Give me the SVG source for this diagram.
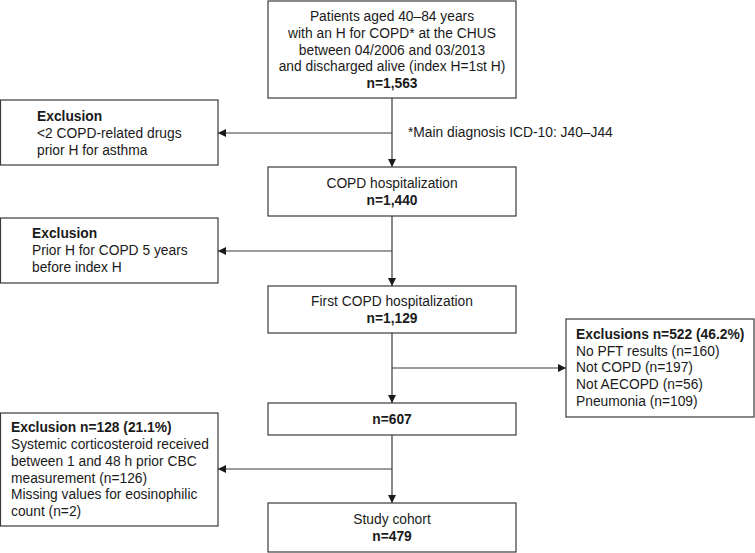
<svg xmlns="http://www.w3.org/2000/svg" width="755" height="553" viewBox="0 0 755 553">
<defs>
<style>
.box{fill:#fff;stroke:#3a3a3a;stroke-width:1.2}
.t{font-family:"Liberation Sans",Arial,sans-serif;font-size:13.8px;fill:#1a1a1a}
.c{text-anchor:middle}
.b{font-weight:bold}
.ln{stroke:#3a3a3a;stroke-width:1.2;fill:none}
</style>
<marker id="ah" viewBox="0 0 10 10" refX="10" refY="5" markerWidth="8" markerHeight="8" markerUnits="userSpaceOnUse" orient="auto">
<path d="M0,0 L10,5 L0,10 z" fill="#1a1a1a"/>
</marker>
</defs>
<rect width="755" height="553" fill="#fff"/>
<g id="connectors">
<line class="ln" x1="392" y1="98" x2="392" y2="167" marker-end="url(#ah)"/>
<line class="ln" x1="392" y1="133" x2="218" y2="133" marker-end="url(#ah)"/>
<line class="ln" x1="392" y1="216" x2="392" y2="286" marker-end="url(#ah)"/>
<line class="ln" x1="392" y1="251" x2="218" y2="251" marker-end="url(#ah)"/>
<line class="ln" x1="392" y1="333" x2="392" y2="403" marker-end="url(#ah)"/>
<line class="ln" x1="392" y1="368" x2="566" y2="368" marker-end="url(#ah)"/>
<line class="ln" x1="392" y1="435" x2="392" y2="503" marker-end="url(#ah)"/>
<line class="ln" x1="392" y1="469" x2="218" y2="469" marker-end="url(#ah)"/>
</g>
<g id="note">
<text class="t" x="408" y="137">*Main diagnosis ICD-10: J40–J44</text>
</g>
<g id="patients">
<rect class="box" x="268" y="1" width="248" height="97"/>
<text class="t c" x="392" y="21">Patients aged 40–84 years</text>
<text class="t c" x="392" y="38">with an H for COPD* at the CHUS</text>
<text class="t c" x="392" y="55">between 04/2006 and 03/2013</text>
<text class="t c" x="392" y="71">and discharged alive (index H=1st H)</text>
<text class="t c b" x="392" y="88">n=1,563</text>
</g>
<g id="excl1">
<rect class="box" x="0.5" y="100" width="217.5" height="65"/>
<text class="t b" x="37" y="121">Exclusion</text>
<text class="t" x="37" y="138">&lt;2 COPD-related drugs</text>
<text class="t" x="37" y="155">prior H for asthma</text>
</g>
<g id="copd">
<rect class="box" x="268" y="167" width="248" height="49"/>
<text class="t c" x="392" y="188">COPD hospitalization</text>
<text class="t c b" x="392" y="205">n=1,440</text>
</g>
<g id="excl2">
<rect class="box" x="0.5" y="218" width="217.5" height="65"/>
<text class="t b" x="32" y="238">Exclusion</text>
<text class="t" x="32" y="255">Prior H for COPD 5 years</text>
<text class="t" x="32" y="272">before index H</text>
</g>
<g id="first">
<rect class="box" x="268" y="286" width="248" height="47"/>
<text class="t c" x="392" y="306">First COPD hospitalization</text>
<text class="t c b" x="392" y="323">n=1,129</text>
</g>
<g id="excl3">
<rect class="box" x="566" y="319" width="188" height="98"/>
<text class="t b" x="576" y="339">Exclusions n=522 (46.2%)</text>
<text class="t" x="576" y="356">No PFT results (n=160)</text>
<text class="t" x="576" y="372">Not COPD (n=197)</text>
<text class="t" x="576" y="389">Not AECOPD (n=56)</text>
<text class="t" x="576" y="406">Pneumonia (n=109)</text>
</g>
<g id="n607">
<rect class="box" x="268" y="403" width="248" height="32"/>
<text class="t c b" x="392" y="424">n=607</text>
</g>
<g id="excl4">
<rect class="box" x="0.5" y="413" width="217.5" height="113"/>
<text class="t b" x="11" y="432">Exclusion n=128 (21.1%)</text>
<text class="t" x="11" y="449">Systemic corticosteroid received</text>
<text class="t" x="11" y="466">between 1 and 48 h prior CBC</text>
<text class="t" x="11" y="483">measurement (n=126)</text>
<text class="t" x="11" y="499">Missing values for eosinophilic</text>
<text class="t" x="11" y="516">count (n=2)</text>
</g>
<g id="cohort">
<rect class="box" x="268" y="503" width="248" height="49"/>
<text class="t c" x="392" y="524">Study cohort</text>
<text class="t c b" x="392" y="541">n=479</text>
</g>
</svg>
